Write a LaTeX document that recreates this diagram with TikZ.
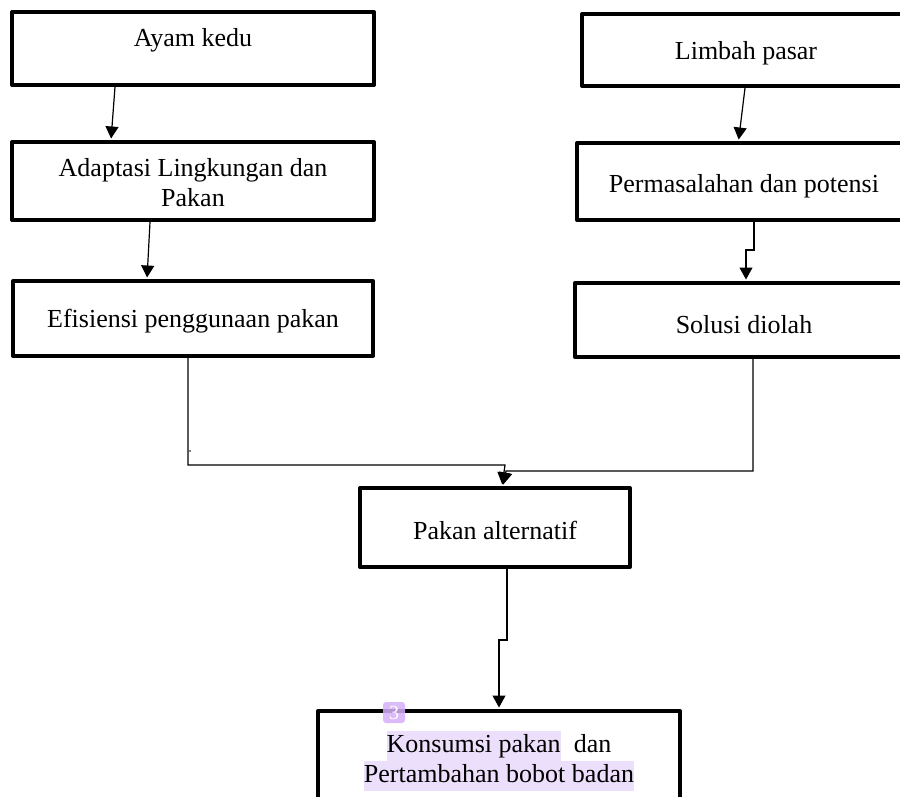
\documentclass[tikz,border=0pt]{standalone}
\usepackage{fontspec}
\setmainfont{Liberation Serif}
\usetikzlibrary{arrows.meta}
\definecolor{hlc}{RGB}{236,223,251}
\definecolor{badgec}{RGB}{214,176,250}
\begin{document}
\begin{tikzpicture}[x=1pt,y=-1pt,
  box/.style={draw, line width=4pt, inner sep=0pt, line join=round},
  txt/.style={font=\fontsize{26}{30}\selectfont, align=center, inner sep=0pt},
  conn/.style={line width=1.2pt},
  arr/.style={conn, -{Triangle[width=13pt,length=12pt]}, shorten >=1.5pt}]
\useasboundingbox (0,0) rectangle (900,797);
\clip (0,0) rectangle (900,797);
\fill[white] (0,0) rectangle (900,797);
% boxes
\node[box, minimum width=362pt, minimum height=73pt] (A) at (193,48.5) {};
\node[box, minimum width=362pt, minimum height=78pt] (B) at (193,181) {};
\node[box, minimum width=360pt, minimum height=75pt] (C) at (193,318.5) {};
\node[box, minimum width=328pt, minimum height=72pt] (D) at (746,50) {};
\node[box, minimum width=333pt, minimum height=77pt] (E) at (743.5,181.5) {};
\node[box, minimum width=335pt, minimum height=74pt] (F) at (742.5,320) {};
\node[box, minimum width=270pt, minimum height=79pt] (G) at (495,527.5) {};
\node[box, minimum width=362pt, minimum height=118pt] (H) at (499,770) {};
% texts
\node[txt] (tA) at (193,40) {Ayam kedu};
\node[txt] (tB) at (193,183) {Adaptasi Lingkungan dan\\Pakan};
\node[txt] (tC) at (193,321) {Efisiensi penggunaan pakan};
\node[txt] (tD) at (746,53) {Limbah pasar};
\node[txt] (tE) at (744,186) {Permasalahan dan potensi};
\node[txt] (tF) at (744,325) {Solusi diolah};
\node[txt] (tG) at (495,530) {Pakan alternatif};
\node[txt] (tH) at (499,761) {\setlength{\fboxsep}{0pt}\colorbox{hlc}{\strut Konsumsi pakan}\ \ dan\\[0pt]\setlength{\fboxsep}{0pt}\colorbox{hlc}{\strut Pertambahan bobot badan}};
% connectors
\draw[arr] ([xshift=-78pt]A.south) -- ([xshift=-82pt]B.north);
\draw[arr] ([xshift=-43pt]B.south) -- ([xshift=-46pt]C.north);
\draw[arr] ([xshift=-1pt]D.south) -- ([xshift=-5pt]E.north);
\draw[arr] ([xshift=10.5pt]E.south) -- ++(0,28) -| ([xshift=3.5pt]F.north);
\draw[arr] ([xshift=-5pt]C.south) |- ([xshift=10pt,yshift=21pt]G.north) -- ([xshift=7pt]G.north);
\draw[arr] ([xshift=10.5pt]F.south) |- ([xshift=11pt,yshift=15pt]G.north) -- ([xshift=8pt]G.north);
\draw[arr] ([xshift=12pt]G.south) -- ++(0,71) -| (H.north);
\fill (190,451) circle (0.9pt);
% badge
\node[fill=badgec, fill opacity=0.85, rounded corners=3pt, minimum width=22pt, minimum height=21pt, inner sep=0pt, text=white, text opacity=1, font=\fontsize{20}{20}\selectfont] (badge) at (394,712.5) {3};
\end{tikzpicture}
\end{document}
